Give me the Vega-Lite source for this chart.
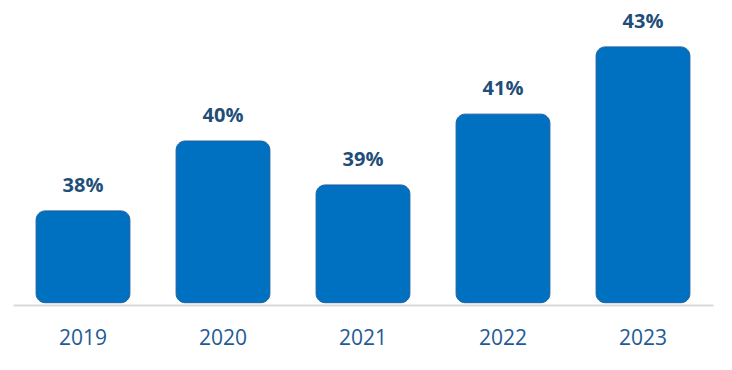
{
  "$schema": "https://vega.github.io/schema/vega-lite/v6.json",
  "autosize": {"type": "none"},
  "width": 700,
  "height": 305,
  "padding": {"left": 13, "top": 0, "right": 19, "bottom": 65},
  "background": "white",
  "config": {"view": {"stroke": null}},
  "data": {
    "values": [
      {"year": "2019", "share": 38.0, "label": "38%"},
      {"year": "2020", "share": 40.13, "label": "40%"},
      {"year": "2021", "share": 38.79, "label": "39%"},
      {"year": "2022", "share": 40.95, "label": "41%"},
      {"year": "2023", "share": 43.0, "label": "43%"}
    ]
  },
  "encoding": {
    "x": {
      "field": "year",
      "type": "nominal",
      "scale": {"paddingInner": 0.33, "paddingOuter": 0.165},
      "axis": {
        "title": null,
        "labelAngle": 0,
        "ticks": false,
        "domainColor": "#D9D9D9",
        "domainWidth": 2,
        "labelFont": "Liberation Sans Narrow, Open Sans",
        "labelFontSize": 21,
        "labelColor": "#1F5A96",
        "labelPadding": 33,
        "labelBaseline": "middle"
      }
    },
    "y": {
      "field": "share",
      "type": "quantitative",
      "scale": {"domain": [35.13, 44.43], "nice": false, "zero": false},
      "axis": null
    }
  },
  "layer": [
    {
      "mark": {
        "type": "bar",
        "color": "#0070C0",
        "stroke": "#1F5F9E",
        "strokeWidth": 1,
        "cornerRadius": 9
      },
      "encoding": {"y2": {"datum": 35.2}}
    },
    {
      "mark": {
        "type": "text",
        "baseline": "middle",
        "dy": -25,
        "font": "Open Sans",
        "fontSize": 20,
        "fontWeight": "bold",
        "color": "#1F4E79"
      },
      "encoding": {"text": {"field": "label"}}
    }
  ]
}
